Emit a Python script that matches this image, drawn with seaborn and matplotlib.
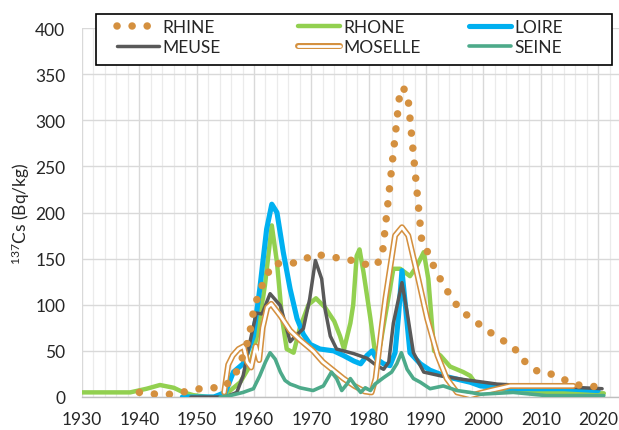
import matplotlib
matplotlib.use("Agg")
import matplotlib.pyplot as plt
from matplotlib.lines import Line2D
from matplotlib.patches import Rectangle
from matplotlib.legend_handler import HandlerTuple
from matplotlib.ticker import MultipleLocator
import seaborn as sns

# ---------------- data ----------------
rhine_years = [1940, 1943, 1946, 1948.8, 1951.5, 1954.5, 1956.4, 1957.7, 1958.7, 1959.3,
               1959.6, 1960.2, 1961, 1962.2, 1962.8, 1964.5, 1966.6, 1968.3, 1970.4, 1972.4,
               1975.3, 1978, 1980.8, 1982.3, 1985.4, 1985.9, 1986.8, 1989.3, 1990.2, 1991.6,
               1993, 1994.5, 1996, 1998.6, 2000.7, 2002.7, 2005.3, 2006.7, 2008.2, 2009.6,
               2011.7, 2013.4, 2014.8, 2016.6, 2018.3, 2020, 2021.5]
rhine_vals = [5, 3, 3, 7, 10, 10, 20, 38, 56, 70,
              85, 99, 117, 128, 142, 145, 145, 147, 155, 153,
              150, 147, 141, 150, 328, 336, 328, 166, 158, 138,
              122, 107, 94, 82, 72, 64, 54, 41, 34, 27,
              25, 22, 16, 13, 12, 11, 9]

rhone_years = [1930, 1935, 1938.4, 1941.3, 1943.6, 1946, 1947.7, 1949.4, 1952, 1954.5,
               1957.6, 1959.3, 1960.5, 1961.9, 1963.1, 1964, 1964.9, 1965.7, 1966.9, 1968,
               1969.5, 1970.8, 1972.4, 1974, 1975, 1975.7, 1976.8, 1977.3, 1977.9, 1978.4,
               1979.1, 1980.3, 1981.1, 1982, 1983.2, 1984.3, 1985.5, 1987.2, 1988.4, 1989.6,
               1990.4, 1991, 1991.4, 1992.5, 1994.2, 1996.5, 1997.7, 1998.5, 2002.4, 2008.2,
               2014, 2019.2, 2021]
rhone_vals = [5, 5, 5, 9, 13, 10, 5, 2, 0, 0,
              16, 34, 66, 121, 186, 146, 85, 52, 48, 75,
              100, 107, 97, 82, 66, 52, 80, 100, 153, 160,
              135, 85, 48, 56, 99, 139, 139, 131, 142, 157,
              128, 81, 50, 45, 33, 27, 23, 16, 9, 5,
              5, 4, 4]

loire_years = [1947.5, 1953, 1955, 1956.4, 1958.1, 1959.9, 1961, 1962.2, 1963.1, 1964,
               1965.1, 1966.3, 1967.5, 1968.6, 1969.8, 1971.5, 1973.9, 1975.6, 1977.4, 1978.6,
               1979.7, 1980.6, 1981.4, 1982.6, 1983.7, 1984.6, 1985.2, 1985.8, 1986.4, 1987.2,
               1989, 1990.7, 1993.6, 1997.7, 1999.5, 2005.2, 2014, 2020]
loire_vals = [0, 0, 5, 27, 36, 66, 117, 182, 209, 200,
              157, 117, 85, 68, 57, 52, 50, 45, 39, 36,
              45, 50, 41, 36, 34, 48, 88, 137, 99, 48,
              36, 29, 22, 16, 12, 9, 9, 7]

meuse_years = [1949, 1955, 1957, 1958.1, 1959.3, 1960.4, 1961.4, 1962.8, 1964.6, 1966.3,
               1967.2, 1968.6, 1969.7, 1970.7, 1971.8, 1972.4, 1973.3, 1974.4, 1977.4, 1979.7,
               1981.4, 1982.6, 1983.5, 1984.3, 1985.8, 1986.7, 1987.8, 1989.6, 1992.5, 1996.5,
               2002.4, 2008.2, 2014, 2020.7]
meuse_vals = [0, 0, 5, 23, 60, 91, 90, 112, 99, 60,
              66, 74, 106, 148, 128, 95, 66, 52, 47, 42,
              34, 30, 38, 80, 124, 92, 48, 27, 23, 19,
              14, 12, 11, 9]

moselle_years = [1954.8, 1955.5, 1956.3, 1957.3, 1958.2, 1958.8, 1959.5, 1960.3, 1960.9, 1961.5,
                 1962.3, 1963, 1964.6, 1966.3, 1968, 1970.3, 1972, 1974, 1975.6, 1977.5,
                 1979.3, 1980.5, 1981.2, 1982.3, 1982.9, 1984.6, 1985.8, 1986.9, 1988.4, 1990.2,
                 1992, 1993.6, 1995.4, 1997.7, 2001.2, 2004.7, 2011.1, 2015.7]
moselle_vals = [5, 35, 45, 52, 55, 38, 32, 55, 40, 75,
                97, 101, 88, 72, 62, 50, 38, 28, 20, 12,
                6, 5, 20, 77, 106, 175, 184, 175, 135, 85,
                45, 20, 5, 1.5, 7, 12, 12, 12]

seine_years = [1954.1, 1955.8, 1958.1, 1959.9, 1961, 1962, 1962.8, 1963.7, 1964.6, 1965.4,
               1966.3, 1967.2, 1968, 1970.3, 1972.1, 1973.5, 1974.4, 1975.3, 1976.2, 1976.8,
               1977.7, 1978.6, 1979.4, 1980.3, 1981.1, 1982.6, 1984, 1984.9, 1985.7, 1986.7,
               1987.8, 1989, 1990.7, 1993, 1995.4, 1997.7, 1999.5, 2005.2, 2011, 2017, 2021]
seine_vals = [0, 1.5, 5, 9, 23, 38, 48, 41, 27, 18,
              14, 12, 10, 7, 12, 27, 20, 7, 14, 20,
              12, 5, 10, 7, 14, 21, 27, 36, 48, 30,
              20, 16, 9, 12, 7, 5, 3, 5, 1.5, 1.5, 1.5]

series_names = ["RHINE", "RHONE", "LOIRE", "MEUSE", "MOSELLE", "SEINE"]
x_ticks = list(range(1930, 2021, 10))
y_ticks = list(range(0, 401, 50))

# ---------------- style ----------------
sns.set_style("white")
plt.rcParams["font.family"] = ["Lato", "DejaVu Sans"]
plt.rcParams["mathtext.default"] = "regular"

C_ORANGE = "#D4903F"
C_GREEN = "#92D050"
C_BLUE = "#00B0F0"
C_GREY = "#595959"
C_TEAL = "#4DAA8A"
TXT = "#262626"

W, H = 619, 431
fig = plt.figure(figsize=(W / 100, H / 100), dpi=100)
ax = fig.add_axes([82 / W, 33 / H, 539 / W, 369 / H])

rhine_ls = (0, (0.01, 2.0))
RH_LW = 5.4
MOS_OUT, MOS_IN = 4.3, 2.0

sns.lineplot(x=rhone_years, y=rhone_vals, ax=ax, color=C_GREEN, linewidth=3.2,
             estimator=None, sort=False, zorder=3)
sns.lineplot(x=loire_years, y=loire_vals, ax=ax, color=C_BLUE, linewidth=3.7,
             estimator=None, sort=False, zorder=4)
sns.lineplot(x=meuse_years, y=meuse_vals, ax=ax, color=C_GREY, linewidth=2.5,
             estimator=None, sort=False, zorder=5)
sns.lineplot(x=moselle_years, y=moselle_vals, ax=ax, color=C_ORANGE, linewidth=MOS_OUT,
             estimator=None, sort=False, zorder=6)
sns.lineplot(x=moselle_years, y=moselle_vals, ax=ax, color="white", linewidth=MOS_IN,
             estimator=None, sort=False, zorder=6.1)
sns.lineplot(x=seine_years, y=seine_vals, ax=ax, color=C_TEAL, linewidth=2.6,
             estimator=None, sort=False, zorder=7)
sns.lineplot(x=rhine_years, y=rhine_vals, ax=ax, color=C_ORANGE, linewidth=RH_LW,
             linestyle=rhine_ls, dash_capstyle="round",
             estimator=None, sort=False, zorder=8)

ax.set_xlim(1930, 2024)
ax.set_ylim(0, 400)
ax.set_xticks(x_ticks)
ax.set_yticks(y_ticks)
ax.xaxis.set_minor_locator(MultipleLocator(2))
ax.grid(which="major", axis="both", color="#D9D9D9", linewidth=1.0, zorder=0)
ax.grid(which="minor", axis="x", color="#EBEBEB", linewidth=0.9, zorder=0)
ax.set_axisbelow(True)
for s in ["top", "right", "left"]:
    ax.spines[s].set_visible(False)
ax.spines["bottom"].set_color("#BFBFBF")
ax.spines["bottom"].set_linewidth(1.0)
ax.tick_params(axis="both", which="both", length=0, labelsize=12.5, colors=TXT)
ax.tick_params(axis="x", pad=10)
ax.tick_params(axis="y", pad=12)
ax.set_xlabel("")
ax.set_ylabel("$^{137}$Cs (Bq/kg)", fontsize=12.5, color=TXT)
ax.yaxis.set_label_coords(-0.092, 0.5)

# ---------------- legend ----------------
frame = Rectangle((96 / W, (H - 66) / H), 516 / W, 51 / H, transform=fig.transFigure,
                  facecolor="white", edgecolor="black", linewidth=1.2, zorder=19)
fig.add_artist(frame)

h_rhine = Line2D([], [], color=C_ORANGE, linewidth=RH_LW, linestyle=rhine_ls, dash_capstyle="round")
h_rhone = Line2D([], [], color=C_GREEN, linewidth=3.2)
h_loire = Line2D([], [], color=C_BLUE, linewidth=3.7)
h_meuse = Line2D([], [], color=C_GREY, linewidth=2.5)
h_mos = (Line2D([], [], color=C_ORANGE, linewidth=MOS_OUT), Line2D([], [], color="white", linewidth=MOS_IN))
h_seine = Line2D([], [], color=C_TEAL, linewidth=2.6)

LEG_FS = 12.5
fs_px = LEG_FS * 100 / 72
columns = [
    ([h_rhine, h_meuse], [series_names[0], series_names[3]], 117),
    ([h_rhone, h_mos], [series_names[1], series_names[4]], 298),
    ([h_loire, h_seine], [series_names[2], series_names[5]], 469),
]
for hs, ls, x0 in columns:
    lg = fig.legend(hs, ls, loc="upper left", bbox_to_anchor=(x0 / W, 1 - 20 / H),
                    frameon=False, borderpad=0, borderaxespad=0, fontsize=LEG_FS,
                    handlelength=42 / fs_px, handletextpad=3 / fs_px, labelspacing=0.25,
                    labelcolor=TXT, handler_map={tuple: HandlerTuple(ndivide=1, pad=0)})
    lg.set_zorder(21)

fig.savefig("out.png", dpi=100)
